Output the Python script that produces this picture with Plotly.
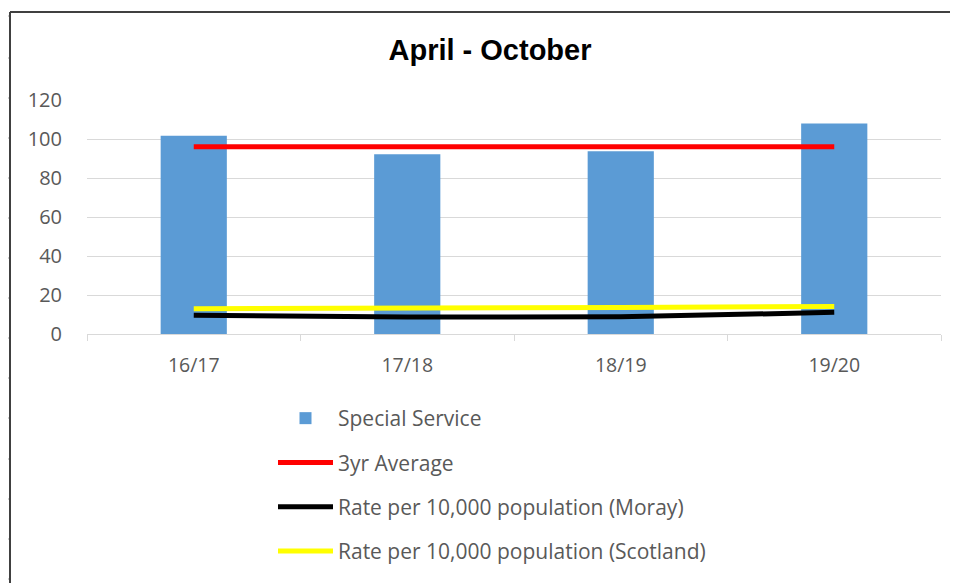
import plotly.graph_objects as go

categories = ["16/17", "17/18", "18/19", "19/20"]
special_service = [101.7, 92.2, 93.7, 108.0]
three_yr_avg = [96.0, 96.0, 96.0, 96.0]
rate_moray = [9.6, 8.7, 8.8, 11.1]
rate_scotland = [13.0, 13.0, 13.6, 14.1]
y_ticks = [0, 20, 40, 60, 80, 100, 120]

# layout geometry (page pixels); the page body adds an 8px offset
OFF = 8
PW, PH = 958, 583
W, H = PW - OFF, PH - OFF
L, T = 87 - OFF, 100 - OFF
R = PW - 941
B = PH - 334
pw, ph = W - L - R, H - T - B


def px_x(p):
    return (p - OFF - L) / pw


def px_y(p):
    return (H - B - (p - OFF)) / ph


fig = go.Figure()
fig.add_trace(go.Bar(
    x=categories, y=special_service, name="Special Service",
    marker=dict(color="#5B9BD5", line=dict(width=0)), width=0.31,
    legendgroup="a",
))
fig.add_trace(go.Scatter(
    x=categories, y=three_yr_avg, name="3yr Average", mode="lines",
    line=dict(color="#FF0000", width=5), legendgroup="b",
))
fig.add_trace(go.Scatter(
    x=categories, y=rate_moray, name="Rate per 10,000 population (Moray)", mode="lines",
    line=dict(color="#000000", width=5), legendgroup="c",
))
fig.add_trace(go.Scatter(
    x=categories, y=rate_scotland, name="Rate per 10,000 population (Scotland)", mode="lines",
    line=dict(color="#FFFF00", width=5), legendgroup="d",
))

shapes = [
    dict(type="line", xref="paper", yref="paper", x0=px_x(10), x1=px_x(10),
         y0=px_y(12), y1=px_y(PH + 5), line=dict(color="#404040", width=2)),
    dict(type="line", xref="paper", yref="paper", x0=px_x(10), x1=px_x(PW + 5),
         y0=px_y(12), y1=px_y(12), line=dict(color="#404040", width=2)),
]
for py in [16, 58, 98, 138, 178, 218, 258, 298, 338, 378, 418, 459, 499, 539, 579]:
    shapes.append(dict(type="line", xref="paper", yref="paper", x0=px_x(4), x1=px_x(9),
                       y0=px_y(py), y1=px_y(py), line=dict(color="#a0a0a0", width=1)))

fig.update_layout(
    width=W, height=H,
    margin=dict(l=L, r=R, t=T, b=B, autoexpand=False),
    paper_bgcolor="white", plot_bgcolor="white",
    font=dict(family="Open Sans, Liberation Sans, sans-serif", color="#595959"),
    title=dict(text="<b>April - October</b>", x=(490 - OFF) / W, xref="container", xanchor="center",
               y=1 - (50 - OFF) / H, yref="container", yanchor="middle",
               font=dict(family="Liberation Sans, Arial, sans-serif", size=29, color="#000000")),
    showlegend=True,
    legend=dict(
        orientation="v", x=px_x(273), y=px_y(398), xanchor="left", yanchor="top",
        font=dict(size=21, color="#595959"), itemwidth=55, tracegroupgap=14,
        bgcolor="rgba(0,0,0,0)", traceorder="grouped",
    ),
    shapes=shapes,
)
fig.update_xaxes(
    type="category", range=[-0.5, 3.5], tickson="boundaries", ticks="outside",
    ticklen=6, tickcolor="#d9d9d9", showline=True, linecolor="#d9d9d9", linewidth=1,
    showgrid=False, tickfont=dict(size=19.5, color="#595959"), ticklabelstandoff=14,
)
fig.update_yaxes(
    range=[0, 120], tickvals=y_ticks, showgrid=True, gridcolor="#d9d9d9", gridwidth=1,
    zeroline=False, showline=False, ticks="", ticklabelstandoff=24,
    tickfont=dict(size=20, color="#595959"),
)

fig.write_html("out.html")
